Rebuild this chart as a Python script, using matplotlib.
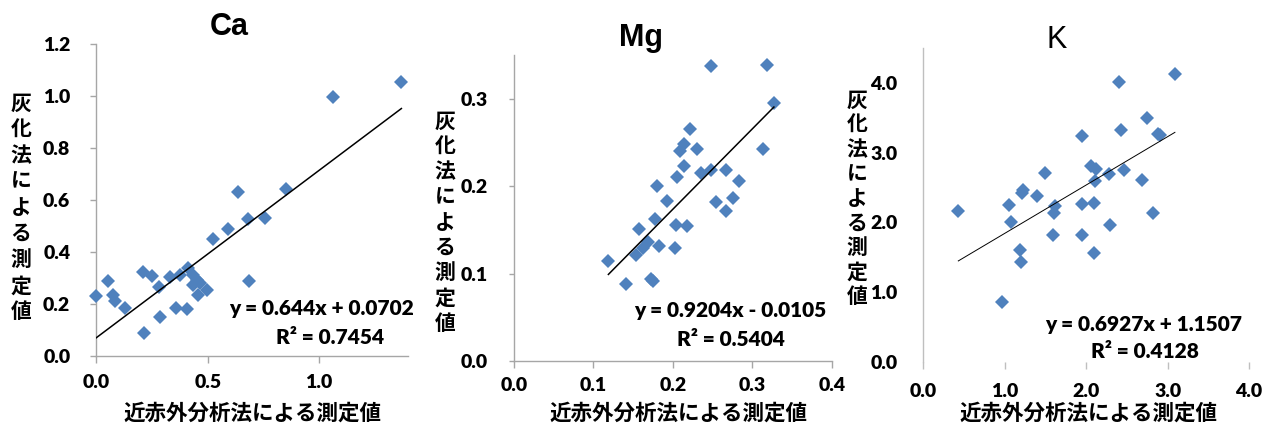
import matplotlib
matplotlib.use('Agg')
import matplotlib.pyplot as plt
import numpy as np

W, H = 1270, 426
fig = plt.figure(figsize=(W / 100, H / 100), dpi=100)

# ---------------- data ----------------
ca_nir = [0.000, 0.054, 0.076, 0.084, 0.129, 0.211, 0.215, 0.248, 0.283, 0.286,
          0.330, 0.356, 0.375, 0.408, 0.413, 0.432, 0.450, 0.435, 0.457, 0.465,
          0.495, 0.525, 0.592, 0.635, 0.682, 0.686, 0.759, 0.851, 1.063, 1.369]
ca_ash = [0.231, 0.289, 0.235, 0.212, 0.184, 0.325, 0.087, 0.308, 0.264, 0.151,
          0.303, 0.184, 0.312, 0.180, 0.340, 0.312, 0.293, 0.273, 0.235, 0.280,
          0.254, 0.449, 0.489, 0.630, 0.528, 0.289, 0.530, 0.642, 0.995, 1.053]

mg_nir = [0.119, 0.141, 0.154, 0.157, 0.163, 0.169, 0.172, 0.175, 0.178, 0.180,
          0.182, 0.193, 0.2025, 0.204, 0.205, 0.209, 0.214, 0.214, 0.218, 0.222,
          0.230, 0.236, 0.248, 0.248, 0.254, 0.267, 0.2665, 0.2757, 0.283, 0.313,
          0.318, 0.327]
mg_ash = [0.1145, 0.088, 0.121, 0.151, 0.129, 0.136, 0.0935, 0.0916, 0.162, 0.200,
          0.131, 0.183, 0.129, 0.156, 0.211, 0.240, 0.2485, 0.2225, 0.1546, 0.265,
          0.243, 0.215, 0.219, 0.337, 0.182, 0.171, 0.219, 0.186, 0.206, 0.243,
          0.339, 0.295]

k_nir = [0.43, 0.97, 1.055, 1.08, 1.19, 1.20, 1.21, 1.23, 1.40, 1.49,
         1.595, 1.60, 1.615, 1.943, 1.95, 1.955, 2.065, 2.094, 2.094, 2.106,
         2.127, 2.28, 2.29, 2.405, 2.434, 2.466, 2.687, 2.753, 2.822, 2.883,
         2.91, 3.09]
k_ash = [2.16, 0.86, 2.255, 2.01, 1.61, 1.43, 2.42, 2.46, 2.375, 2.71,
         1.825, 2.13, 2.236, 3.235, 1.815, 2.26, 2.814, 2.284, 1.567, 2.594,
         2.771, 2.70, 1.96, 4.01, 3.32, 2.747, 2.613, 3.50, 2.14, 3.27,
         3.26, 4.13]

titles = ["Ca", "Mg", "K"]
slopes = [0.644, 0.9204, 0.6927]
intercepts = [0.0702, -0.0105, 1.1507]
eq_labels = ["y = 0.644x + 0.0702", "y = 0.9204x - 0.0105", "y = 0.6927x + 1.1507"]
r2_labels = ["R² = 0.7454", "R² = 0.5404", "R² = 0.4128"]
x_ticks = [[0.0, 0.5, 1.0], [0.0, 0.1, 0.2, 0.3, 0.4], [0.0, 1.0, 2.0, 3.0, 4.0]]
x_ticklabels = [["0.0", "0.5", "1.0"], ["0.0", "0.1", "0.2", "0.3", "0.4"],
                ["0.0", "1.0", "2.0", "3.0", "4.0"]]
y_ticks = [[0.0, 0.2, 0.4, 0.6, 0.8, 1.0, 1.2], [0.0, 0.1, 0.2, 0.3],
           [0.0, 1.0, 2.0, 3.0, 4.0]]
y_ticklabels = [["0.0", "0.2", "0.4", "0.6", "0.8", "1.0", "1.2"],
                ["0.0", "0.1", "0.2", "0.3"],
                ["0.0", "1.0", "2.0", "3.0", "4.0"]]
xlabel = "近赤外分析法による測定値"
ylabel = "灰化法による測定値"

xs = [ca_nir, mg_nir, k_nir]
ys = [ca_ash, mg_ash, k_ash]

# ---------------- layout (pixels) ----------------
boxes = [(96.3, 44, 408.3, 356), (513.7, 55, 832, 361), (923.3, 48, 1249, 362)]
xlims = [(0, 1.4), (0, 0.4), (0, 4.0)]
ylims = [(0, 1.2), (0, 0.35), (0, 4.5)]
title_pos = [(229, 35), (641, 46), (1057, 48)]
title_bold = [True, True, False]
eq_pos = [(321, 308), (730, 311), (1144, 325)]
r2_pos = [(330, 337), (731, 340), (1145, 352)]
xl_pos = [(252, 413), (678, 413), (1088, 413)]
yl_pos = [(21, 103, 26.1), (445, 121, 25.3), (857, 100, 24.6)]
ytick_len = [4.3, 3.5, 0]
ytick_pad = [14.4, 15, 18.7]
xtick_pad = [8, 6.5, 10]
spine_col = ["#A6A6A6", "#A6A6A6", "#BFBFBF"]
line_w = [1.1, 1.1, 0.7]

TICKFONT = "Lato"
EQFONT = "Lato"
CJK = ["Noto Sans CJK JP", "DejaVu Sans"]
tick_text = dict(fontsize=14, fontweight='heavy', family=TICKFONT)


def fx(px):
    return px / W


def fy(py):
    return 1 - py / H


for i in range(3):
    l, t, r, b = boxes[i]
    ax = fig.add_axes([l / W, 1 - b / H, (r - l) / W, (b - t) / H])
    ax.set_xlim(*xlims[i])
    ax.set_ylim(*ylims[i])
    ax.plot(xs[i], ys[i], 'D', color="#4F81BD", markersize=7.4,
            markeredgewidth=0, zorder=3, clip_on=False)
    xx = np.array([min(xs[i]), max(xs[i])])
    ax.plot(xx, slopes[i] * xx + intercepts[i], '-', color='black',
            lw=line_w[i], zorder=4)
    for s in ['top', 'right']:
        ax.spines[s].set_visible(False)
    for s in ['left', 'bottom']:
        ax.spines[s].set_color(spine_col[i])
        ax.spines[s].set_linewidth(1.0)
    if i == 2:
        ax.spines['bottom'].set_visible(False)
    ax.tick_params(axis='x', direction='out', length=5, width=1,
                   color=spine_col[i], pad=xtick_pad[i])
    ax.tick_params(axis='y', direction='out', length=ytick_len[i], width=1,
                   color=spine_col[i], pad=ytick_pad[i])
    ax.set_xticks(x_ticks[i], x_ticklabels[i], **tick_text)
    ax.set_yticks(y_ticks[i], y_ticklabels[i], **tick_text)
    ax.patch.set_alpha(0)

    # title
    tx, ty = title_pos[i]
    fig.text(fx(tx), fy(ty), titles[i], ha='center', va='baseline',
             fontsize=22, family='Liberation Sans',
             fontweight='bold' if title_bold[i] else 'normal')
    # equation
    ex, ey = eq_pos[i]
    fig.text(fx(ex), fy(ey), eq_labels[i], ha='center', va='center',
             fontsize=15, family=EQFONT, fontweight='heavy')
    rx, ry = r2_pos[i]
    fig.text(fx(rx), fy(ry), r2_labels[i], ha='center', va='center',
             fontsize=15, family=EQFONT, fontweight='heavy')
    # x label
    lx, ly = xl_pos[i]
    fig.text(fx(lx), fy(ly), xlabel, ha='center', va='center',
             fontsize=15.5, family=CJK, fontweight='bold')
    # stacked y label
    cx, cy0, pitch = yl_pos[i]
    for k, ch in enumerate(ylabel):
        fig.text(fx(cx), fy(cy0 + k * pitch), ch, ha='center', va='center',
                 fontsize=15, family=CJK, fontweight='bold')

fig.savefig("out.png", dpi=100)
